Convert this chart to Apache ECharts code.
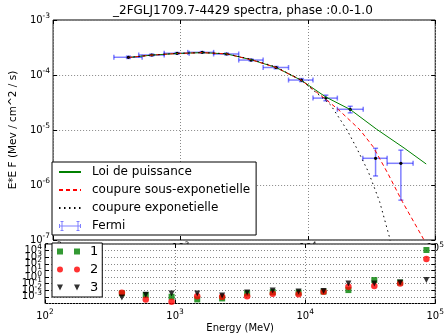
<!DOCTYPE html>
<html>
<head>
<meta charset="utf-8">
<script src="https://cdn.jsdelivr.net/npm/echarts@6/dist/echarts.min.js"></script>
<style>
  html, body { margin: 0; padding: 0; background: #fff; }
  #chart { width: 447px; height: 334px; }
</style>
</head>
<body>
<div id="chart"></div>
<script>
// Fermi points (MeV, MeV/cm^2/s)
const energy   = [390, 595, 940, 1480, 2300, 3580, 5630, 8900, 13850, 21500, 34000, 53700];
const energyLo = [300, 470, 745, 1140, 1820, 2865, 4455, 7050, 10970, 17040, 27000, 41900];
const energyHi = [500, 745, 1170, 1820, 2865, 4455, 7050, 10970, 17040, 27200, 41900, 67000];
const flux     = [2.1e-4, 2.31e-4, 2.48e-4, 2.58e-4, 2.41e-4, 1.87e-4, 1.37e-4, 8.1e-5, 3.8e-5, 2.38e-5, 3.06e-6, 2.48e-6];
const fluxLo   = [2.0e-4, 2.22e-4, 2.4e-4, 2.5e-4, 2.33e-4, 1.8e-4, 1.3e-4, 7.6e-5, 3.4e-5, 2.05e-5, 1.46e-6, 5.3e-7];
const fluxHi   = [2.2e-4, 2.4e-4, 2.56e-4, 2.66e-4, 2.5e-4, 1.95e-4, 1.43e-4, 8.6e-5, 4.3e-5, 2.7e-5, 4.65e-6, 4.3e-6];

// modeles
const plE    = [390, 595, 940, 1480, 2300, 3580, 5630, 8900, 13850, 21500, 34500, 56900, 84900];
const plFlux = [2.08e-4, 2.3e-4, 2.46e-4, 2.55e-4, 2.42e-4, 1.9e-4, 1.37e-4, 8.0e-5, 3.97e-5, 2.36e-5, 1.04e-5, 4.71e-6, 2.41e-6];

const secE    = [390, 595, 940, 1480, 2300, 3580, 5630, 8900, 13850, 17500, 25700, 32500, 42400, 55200, 80900, 85500];
const secFlux = [2.08e-4, 2.3e-4, 2.46e-4, 2.55e-4, 2.42e-4, 1.9e-4, 1.37e-4, 8.0e-5, 3.6e-5, 2.31e-5, 1.0e-5, 4.97e-6, 1.63e-6, 4.97e-7, 1.04e-7, 8e-8];

const ecE    = [390, 595, 940, 1480, 2300, 3580, 5630, 8900, 13850, 15100, 20300, 24200, 29800, 36600, 43600, 50000];
const ecFlux = [2.08e-4, 2.3e-4, 2.47e-4, 2.56e-4, 2.44e-4, 1.93e-4, 1.4e-4, 8.0e-5, 3.4e-5, 2.85e-5, 1.0e-5, 4.65e-6, 1.75e-6, 4.97e-7, 1.15e-7, 2e-8];

// residus
const resE = [390, 595, 940, 1480, 2300, 3580, 5630, 8900, 13850, 21500, 34000, 53700, 85500];
const res1 = [0.0035, 0.0019, 0.00105, 0.00042, 0.00059, 0.0034, 0.0053, 0.0045, 0.0063, 0.0107, 0.35, 0.148, 12300];
const res2 = [0.0042, 0.00042, 0.00018, 0.0013, 0.00105, 0.0013, 0.0029, 0.0026, 0.0059, 0.034, 0.044, 0.11, 540];
const res3 = [0.00078, 0.0022, 0.0032, 0.0032, 0.0016, 0.0045, 0.0089, 0.0063, 0.0076, 0.105, 0.105, 0.148, 0.35];
const resNames = ['1', '2', '3'];

const FONT = 'DejaVu Sans';
const ERR_COLOR = 'rgba(0,0,255,0.5)';

// 10^n avec exposant en exposant
const powLabel = v => {
  const e = Math.round(Math.log10(v));
  return '10{sup|' + e + '}';
};
const supRich = { sup: { fontSize: 7.5, fontFamily: FONT, color: '#000', padding: [0, 0, 7, 0] } };

const gridLine = { show: true, lineStyle: { color: '#888', width: 1, type: [1, 2] } };
const tick = { show: true, inside: true, length: 4, lineStyle: { color: '#000' } };

function logX(gridIndex, z, showLabel, margin) {
  return {
    type: 'log', logBase: 10, gridIndex, min: 100, max: 100000, splitNumber: 3, z,
    axisLine: { show: false }, axisTick: tick, splitLine: gridLine,
    axisLabel: { show: showLabel, margin, hideOverlap: false, formatter: powLabel, fontFamily: FONT, fontSize: 10, color: '#000', rich: supRich }
  };
}
function mirrorX(gridIndex, z) {
  return { type: 'log', logBase: 10, gridIndex, position: 'top', min: 100, max: 100000, splitNumber: 3, z,
    axisLine: { show: false }, axisTick: tick, splitLine: { show: false }, axisLabel: { show: false } };
}
function mirrorY(gridIndex, z, min, max, n) {
  return { type: 'log', logBase: 10, gridIndex, position: 'right', min, max, splitNumber: n, z,
    axisLine: { show: false }, axisTick: tick, splitLine: { show: false }, axisLabel: { show: false } };
}

function errorBar(params, api) {
  const c = api.coord([api.value(0), api.value(1)]);
  const xl = api.coord([api.value(2), api.value(1)]);
  const xh = api.coord([api.value(3), api.value(1)]);
  const yl = api.coord([api.value(0), api.value(4)]);
  const yh = api.coord([api.value(0), api.value(5)]);
  const cap = 2.5;
  const style = { stroke: ERR_COLOR, lineWidth: 1.5 };
  const seg = (x1, y1, x2, y2) => ({ type: 'line', shape: { x1, y1, x2, y2 }, style });
  return {
    type: 'group',
    children: [
      seg(xl[0], c[1], xh[0], c[1]),
      seg(c[0], yl[1], c[0], yh[1]),
      seg(xl[0], c[1] - cap, xl[0], c[1] + cap),
      seg(xh[0], c[1] - cap, xh[0], c[1] + cap),
      seg(c[0] - cap, yl[1], c[0] + cap, yl[1]),
      seg(c[0] - cap, yh[1], c[0] + cap, yh[1]),
      { type: 'circle', shape: { cx: c[0], cy: c[1], r: 1.6 }, style: { fill: '#000' } }
    ]
  };
}

const pairs = (xs, ys) => xs.map((x, i) => [x, ys[i]]);

const fermiIcon = 'path://M0,4.5H22V5.5H0Z M2.5,0H3.5V10H2.5Z M18.5,0H19.5V10H18.5Z M1.5,0H4.5V1H1.5Z M1.5,9H4.5V10H1.5Z M17.5,0H20.5V1H17.5Z M17.5,9H20.5V10H17.5Z M0,3H1V7H0Z M21,3H22V7H21Z';
// icones de legende a deux marqueurs (numpoints = 2)
const resIcons = [
  'path://M0,0H6V6H0Z M17,0H23V6H17Z',
  'path://M0,3A3,3,0,1,0,6,3A3,3,0,1,0,0,3Z M17,3A3,3,0,1,0,23,3A3,3,0,1,0,17,3Z',
  'path://M0,0H6L3,6Z M17,0H23L20,6Z'
];
const resColors = ['#008000', '#ff0000', '#000'];
const noMarker = { opacity: 0 };

const chart = echarts.init(document.getElementById('chart'), null, { renderer: 'canvas' });

// series fantomes, uniquement pour les icones de la legende du bas
const legendOnly = resNames.map((n, i) => ({
  name: n, type: 'scatter', xAxisIndex: 1, yAxisIndex: 1, symbol: resIcons[i], symbolSize: [23, 6],
  itemStyle: { color: resColors[i] }, data: []
}));

chart.setOption({
  animation: false,
  backgroundColor: '#fff',
  title: {
    text: '_2FGLJ1709.7-4429 spectra, phase :0.0-1.0',
    left: 113, top: 5, padding: 0,
    textStyle: { fontFamily: FONT, fontSize: 12, fontWeight: 'normal', color: '#000' }
  },
  legend: [
    {
      orient: 'vertical', left: 52, top: 162,
      padding: [4, 6, 3, 6], itemWidth: 22, itemHeight: 10, itemGap: 6,
      backgroundColor: '#fff', borderColor: '#000', borderWidth: 1, borderRadius: 0,
      selectedMode: false,
      textStyle: { fontFamily: FONT, fontSize: 12, lineHeight: 12, color: '#000', padding: [0, 0, 0, 6] },
      data: [
        { name: 'Loi de puissance', itemStyle: noMarker },
        { name: 'coupure sous-exponetielle', itemStyle: noMarker },
        { name: 'coupure exponetielle', itemStyle: noMarker },
        { name: 'Fermi', icon: fermiIcon, itemStyle: { color: ERR_COLOR } }
      ]
    },
    {
      orient: 'vertical', left: 52, top: 243, z: 6,
      padding: [2, 4, 3, 5], itemWidth: 23, itemHeight: 6, itemGap: 5,
      backgroundColor: '#fff', borderColor: '#000', borderWidth: 1, borderRadius: 0,
      selectedMode: false,
      textStyle: { fontFamily: FONT, fontSize: 13, lineHeight: 13, color: '#000', padding: [0, 0, 0, 5] },
      data: resNames
    }
  ],
  grid: [
    { left: 45, top: 20, width: 392, height: 220, show: true, backgroundColor: '#fff', borderColor: '#000', borderWidth: 1 },
    { left: 45, top: 244, width: 392, height: 59.5, show: true, backgroundColor: '#fff', borderColor: '#000', borderWidth: 1, z: 3 }
  ],
  xAxis: [
    logX(0, 0, true, 1),
    Object.assign(logX(1, 4, true, 5), {
      name: 'Energy (MeV)', nameLocation: 'middle', nameGap: 19.5,
      nameTextStyle: { fontFamily: FONT, fontSize: 10, color: '#000' }
    }),
    mirrorX(0, 0),
    mirrorX(1, 4)
  ],
  yAxis: [
    {
      type: 'log', logBase: 10, gridIndex: 0, min: 1e-7, max: 1e-3, splitNumber: 4,
      axisLine: { show: false }, axisTick: tick, splitLine: gridLine,
      axisLabel: { margin: 3, hideOverlap: false, formatter: powLabel, fontFamily: FONT, fontSize: 10, color: '#000', rich: supRich },
      name: 'E*E F (Mev / cm^2 / s)', nameLocation: 'middle', nameGap: 27,
      nameTextStyle: { fontFamily: FONT, fontSize: 10.5, color: '#000' }
    },
    {
      type: 'log', logBase: 10, gridIndex: 1, min: 1e-4, max: 1e5, splitNumber: 9, z: 4,
      axisLine: { show: false }, axisTick: tick, splitLine: gridLine,
      axisLabel: { margin: 3, hideOverlap: false, formatter: powLabel, fontFamily: FONT, fontSize: 10, color: '#000', rich: supRich }
    },
    mirrorY(0, 0, 1e-7, 1e-3, 4),
    mirrorY(1, 4, 1e-4, 1e5, 9)
  ],
  series: [
    {
      name: 'Fermi', type: 'custom', xAxisIndex: 0, yAxisIndex: 0, clip: true,
      itemStyle: { color: ERR_COLOR },
      renderItem: errorBar,
      encode: { x: 0, y: 1 },
      data: energy.map((e, i) => [e, flux[i], energyLo[i], energyHi[i], fluxLo[i], fluxHi[i]])
    },
    {
      name: 'Loi de puissance', type: 'line', xAxisIndex: 0, yAxisIndex: 0, symbol: 'none', clip: true,
      itemStyle: { color: '#008000' }, lineStyle: { color: '#008000', width: 1 },
      data: pairs(plE, plFlux)
    },
    {
      name: 'coupure sous-exponetielle', type: 'line', xAxisIndex: 0, yAxisIndex: 0, symbol: 'none', clip: true,
      itemStyle: { color: '#ff0000' }, lineStyle: { color: '#ff0000', width: 1, type: [4, 3] },
      data: pairs(secE, secFlux)
    },
    {
      name: 'coupure exponetielle', type: 'line', xAxisIndex: 0, yAxisIndex: 0, symbol: 'none', clip: true,
      itemStyle: { color: '#000' }, lineStyle: { color: '#000', width: 1, type: [1.5, 3.5] },
      data: pairs(ecE, ecFlux)
    },
    {
      name: 'res1', type: 'scatter', xAxisIndex: 1, yAxisIndex: 1, z: 5, symbol: 'rect', symbolSize: 6,
      itemStyle: { color: resColors[0] }, data: pairs(resE, res1)
    },
    {
      name: 'res2', type: 'scatter', xAxisIndex: 1, yAxisIndex: 1, z: 5, symbol: 'circle', symbolSize: 6.5,
      itemStyle: { color: resColors[1] }, data: pairs(resE, res2)
    },
    {
      name: 'res3', type: 'scatter', xAxisIndex: 1, yAxisIndex: 1, z: 5, symbol: 'triangle', symbolRotate: 180, symbolSize: 6,
      itemStyle: { color: resColors[2] }, data: pairs(resE, res3)
    },
    ...legendOnly
  ]
});
</script>
</body>
</html>
